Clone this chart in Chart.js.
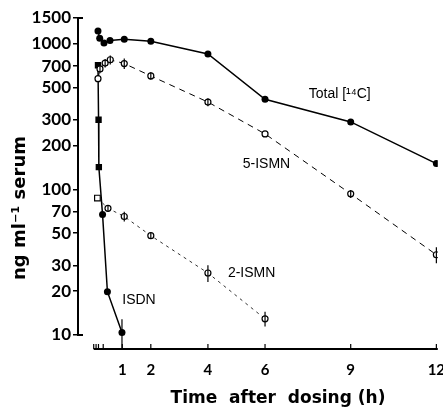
<!DOCTYPE html>
<html>
<head>
<meta charset="utf-8">
<script src="https://cdn.jsdelivr.net/npm/chart.js@4.4.1/dist/chart.umd.min.js"></script>
<style>
  body { margin: 0; background: #fff; }
  #wrap { width: 443px; height: 408px; }
</style>
</head>
<body>
<div id="wrap"><canvas id="pkChart"></canvas></div>
<script>
// values (hours, ng/ml)
const totalTime = [0.15, 0.21, 0.36, 0.57, 1.07, 2, 4, 6, 9, 12];
const totalVal  = [1220, 1090, 1010, 1050, 1070, 1040, 850, 415, 290, 150];
const totalErr  = [0, 0, 0, 0, 0, 0, 25, 0, 0, 0];

const fiveTime = [0.15, 0.22, 0.4, 0.58, 1.07, 2, 4, 6, 9, 12];
const fiveVal  = [575, 670, 735, 775, 730, 600, 397, 240, 93, 35.5];
const fiveErr  = [0, 45, 50, 55, 60, 35, 25, 0, 6, 4.5];

const twoTime = [0.13, 0.5, 1.07, 2, 4, 6];
const twoVal  = [87, 74, 65, 48, 26.6, 12.9];
const twoErr  = [0, 4, 5, 2, 3.5, 1.5];

const isdnTime = [0.15, 0.17, 0.18, 0.31, 0.48, 0.99];
const isdnVal  = [710, 300, 142, 67, 19.8, 10.4];
const isdnErr  = [0, 0, 0, 0, 0, 2.4];

const yTicks = [10, 20, 30, 50, 70, 100, 200, 300, 500, 700, 1000, 1500];
const xLabelTicks = [1, 2, 4, 6, 9, 12];
const xMinorTicks = [0, 0.083, 0.167, 0.333];

const annotText = ['Total [\u00b9\u2074C]', '5-ISMN', '2-ISMN', 'ISDN'];
const annotX = [7.53, 5.22, 4.7, 1.0];
const annotY = [421, 140, 25, 16.2];

function pts(xs, ys) {
    return xs.map(function(t, i) { return {x: t, y: ys[i]} });
}

const errorBars = {
    id: 'errorBars',
    afterDatasetsDraw(chart) {
        const ctx = chart.ctx, xs = chart.scales.x, ys = chart.scales.y;
        ctx.save();
        ctx.strokeStyle = '#000';
        ctx.lineWidth = 1.2;
        chart.data.datasets.forEach(function(ds) {
            if (!ds.err) return;
            ds.data.forEach(function(p, i) {
                let e = ds.err[i];
                if (!e) return;
                let px = xs.getPixelForValue(p.x);
                ctx.beginPath();
                ctx.moveTo(px, ys.getPixelForValue(p.y + e));
                ctx.lineTo(px, ys.getPixelForValue(p.y - e));
                ctx.stroke();
            });
        });
        ctx.restore();
    }
};

const axisDecor = {
    id: 'axisDecor',
    afterDraw(chart) {
        const ctx = chart.ctx, xs = chart.scales.x, ys = chart.scales.y;
        const area = chart.chartArea;
        ctx.save();
        ctx.strokeStyle = '#000';
        ctx.lineWidth = 2;
        // y axis, only from 10 to 1500
        let yTop = ys.getPixelForValue(1500), yBot = ys.getPixelForValue(10);
        ctx.beginPath();
        ctx.moveTo(area.left + 5, yTop);
        ctx.lineTo(area.left, yTop);
        ctx.lineTo(area.left, yBot);
        ctx.lineTo(area.left + 5, yBot);
        ctx.stroke();
        // x axis starts at time 0
        ctx.beginPath();
        ctx.moveTo(xs.getPixelForValue(0), area.bottom);
        ctx.lineTo(area.right, area.bottom);
        ctx.stroke();
        // x ticks point up
        ctx.lineWidth = 1.2;
        xMinorTicks.concat(xLabelTicks).forEach(function(t) {
            let px = xs.getPixelForValue(t);
            ctx.beginPath();
            ctx.moveTo(px, area.bottom);
            ctx.lineTo(px, area.bottom - 5);
            ctx.stroke();
        });

        ctx.fillStyle = '#000';
        ctx.font = 'bold 17px "DejaVu Sans"';
        ctx.textAlign = 'center';
        ctx.textBaseline = 'alphabetic';
        ctx.fillText('Time  after  dosing (h)', 278, 403);

        ctx.save();
        ctx.translate(25, 208);
        ctx.rotate(-Math.PI / 2);
        ctx.font = 'bold 18px "DejaVu Sans"';
        ctx.fillText('ng ml\u207b\u00b9 serum', 0, 0);
        ctx.restore();

        ctx.font = '14px "Liberation Sans"';
        ctx.textAlign = 'left';
        annotText.forEach(function(txt, i) {
            ctx.fillText(txt, xs.getPixelForValue(annotX[i]), ys.getPixelForValue(annotY[i]));
        });
        ctx.restore();
    }
};

document.addEventListener('DOMContentLoaded', function() {
    let ctx = document.getElementById('pkChart').getContext('2d');
    new Chart(ctx, {
        type: 'line',
        data: {
            datasets: [
                {
                    label: 'Total [14C]',
                    data: pts(totalTime, totalVal),
                    err: totalErr,
                    borderColor: '#000',
                    borderWidth: 1.5,
                    pointRadius: 3.5,
                    pointBackgroundColor: '#000',
                    pointBorderColor: '#000',
                    pointBorderWidth: 0
                },
                {
                    label: '5-ISMN',
                    data: pts(fiveTime, fiveVal),
                    err: fiveErr,
                    borderColor: '#000',
                    borderWidth: 1,
                    borderDash: [6, 5],
                    pointRadius: 3,
                    pointBackgroundColor: '#fff',
                    pointBorderColor: '#000',
                    pointBorderWidth: 1.2
                },
                {
                    label: '2-ISMN',
                    data: pts(twoTime, twoVal),
                    err: twoErr,
                    borderColor: '#333',
                    borderWidth: 1,
                    borderDash: [3, 4],
                    pointStyle: ['rect', 'circle', 'circle', 'circle', 'circle', 'circle'],
                    pointRadius: [4, 3, 3, 3, 3, 3],
                    pointBackgroundColor: '#fff',
                    pointBorderColor: '#000',
                    pointBorderWidth: 1.2
                },
                {
                    label: 'ISDN',
                    data: pts(isdnTime, isdnVal),
                    err: isdnErr,
                    borderColor: '#000',
                    borderWidth: 1.5,
                    pointStyle: ['rect', 'rect', 'rect', 'circle', 'circle', 'circle'],
                    pointRadius: [4.5, 4.5, 4.5, 3.5, 3.5, 3.5],
                    pointBackgroundColor: '#000',
                    pointBorderColor: '#000',
                    pointBorderWidth: 0
                }
            ]
        },
        options: {
            responsive: true,
            maintainAspectRatio: false,
            animation: false,
            layout: { padding: { top: 18, right: 0, bottom: 0, left: 0 } },
            plugins: { legend: { display: false }, tooltip: { enabled: false } },
            elements: { line: { tension: 0 } },
            scales: {
                x: {
                    type: 'linear',
                    min: -0.55,
                    max: 12.05,
                    border: { display: false },
                    grid: { display: false, drawTicks: false },
                    afterBuildTicks: function(scale) {
                        scale.ticks = xMinorTicks.concat(xLabelTicks).map(function(v) { return {value: v} });
                    },
                    afterFit: function(scale) {
                        scale.height = 59;
                        scale.paddingLeft = 0;
                        scale.paddingRight = 0;
                    },
                    ticks: {
                        autoSkip: false,
                        maxRotation: 0,
                        padding: 12,
                        color: '#000',
                        font: { family: 'Lato', weight: 'bold', size: 15 },
                        callback: function(v) { return xLabelTicks.includes(v) ? String(v) : '' }
                    }
                },
                y: {
                    type: 'logarithmic',
                    min: 8,
                    max: 1500,
                    border: { display: false },
                    grid: { drawOnChartArea: false, drawTicks: true, tickLength: 5, color: '#000', lineWidth: 1.5 },
                    afterBuildTicks: function(scale) {
                        scale.ticks = yTicks.map(function(v) { return {value: v} });
                    },
                    afterFit: function(scale) {
                        scale.width = 78;
                        scale.paddingTop = 0;
                        scale.paddingBottom = 0;
                    },
                    ticks: {
                        autoSkip: false,
                        padding: 2,
                        color: '#000',
                        font: { family: 'Lato', weight: 'bold', size: 17 },
                        callback: function(v) { return String(v) }
                    }
                }
            }
        },
        plugins: [errorBars, axisDecor]
    });
});
</script>
</body>
</html>
